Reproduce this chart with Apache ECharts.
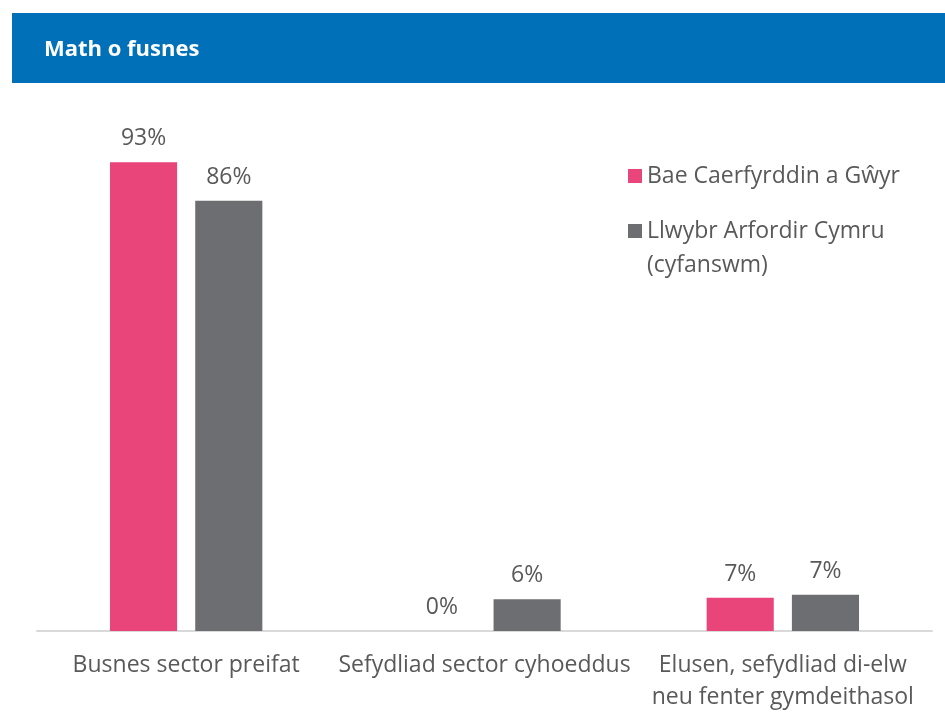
<!DOCTYPE html>
<html>
<head>
<meta charset="utf-8">
<script src="https://cdn.jsdelivr.net/npm/echarts@6/dist/echarts.min.js"></script>
<style>
  html, body { margin: 0; padding: 0; background: #ffffff; }
  #chart { width: 945px; height: 713px; }
</style>
</head>
<body>
<div id="chart"></div>
<script>
const titleText = 'Math o fusnes';
const categories = [
  'Busnes sector preifat',
  'Sefydliad sector cyhoeddus',
  'Elusen, sefydliad di-elw\nneu fenter gymdeithasol'
];
const seriesNames = ['Bae Caerfyrddin a Gŵyr', 'Llwybr Arfordir Cymru (cyfanswm)'];
const bayValues = [93.4, 0, 6.6];
const wholePathValues = [85.7, 6.3, 7.2];
const bayLabels = ['93%', '0%', '7%'];
const wholePathLabels = ['86%', '6%', '7%'];

const textColor = '#595959';
const fontFamily = '"Open Sans", "Noto Sans", sans-serif';

const chart = echarts.init(document.getElementById('chart'), null, { renderer: 'canvas' });

const option = {
  backgroundColor: '#ffffff',
  animation: false,
  graphic: [{
    type: 'rect',
    left: 12, top: 13,
    shape: { width: 933, height: 70 },
    style: { fill: '#0070B9' },
    z: 0
  }],
  title: {
    text: titleText,
    left: 39, top: 34,
    textStyle: { color: '#ffffff', fontSize: 22, fontWeight: 'bold', fontFamily: fontFamily }
  },
  legend: [{
    data: [seriesNames[0]],
    orient: 'vertical',
    left: 623, top: 154,
    itemWidth: 14, itemHeight: 14,
    icon: 'rect',
    textStyle: { color: textColor, fontSize: 23, fontFamily: fontFamily, lineHeight: 34 },
    selectedMode: false
  }, {
    data: [seriesNames[1]],
    orient: 'vertical',
    left: 623, top: 175,
    itemWidth: 14, itemHeight: 14,
    icon: 'rect',
    formatter: function () { return '\nLlwybr Arfordir Cymru\n(cyfanswm)'; },
    textStyle: { color: textColor, fontSize: 23, fontFamily: fontFamily, lineHeight: 34 },
    selectedMode: false
  }],
  grid: { left: 37, right: 13, top: 129, bottom: 82, containLabel: false },
  xAxis: {
    type: 'category',
    data: categories,
    axisLine: { show: true, lineStyle: { color: '#D9D9D9', width: 2 } },
    axisTick: { show: false },
    axisLabel: {
      color: textColor, fontSize: 23, fontFamily: fontFamily,
      lineHeight: 32, margin: 18, interval: 0
    }
  },
  yAxis: {
    type: 'value', min: 0, max: 100,
    show: false,
    splitLine: { show: false }
  },
  series: [{
    name: seriesNames[0],
    type: 'bar',
    data: bayValues,
    barWidth: '22.5%',
    barGap: '27%',
    itemStyle: { color: '#E9457B' },
    label: {
      show: true, position: 'top', distance: 12,
      color: textColor, fontSize: 23, fontFamily: fontFamily,
      formatter: function (p) { return bayLabels[p.dataIndex]; }
    }
  }, {
    name: seriesNames[1],
    type: 'bar',
    data: wholePathValues,
    barWidth: '22.5%',
    itemStyle: { color: '#6D6E71' },
    label: {
      show: true, position: 'top', distance: 12,
      color: textColor, fontSize: 23, fontFamily: fontFamily,
      formatter: function (p) { return wholePathLabels[p.dataIndex]; }
    }
  }]
};
chart.setOption(option);
</script>
</body>
</html>
